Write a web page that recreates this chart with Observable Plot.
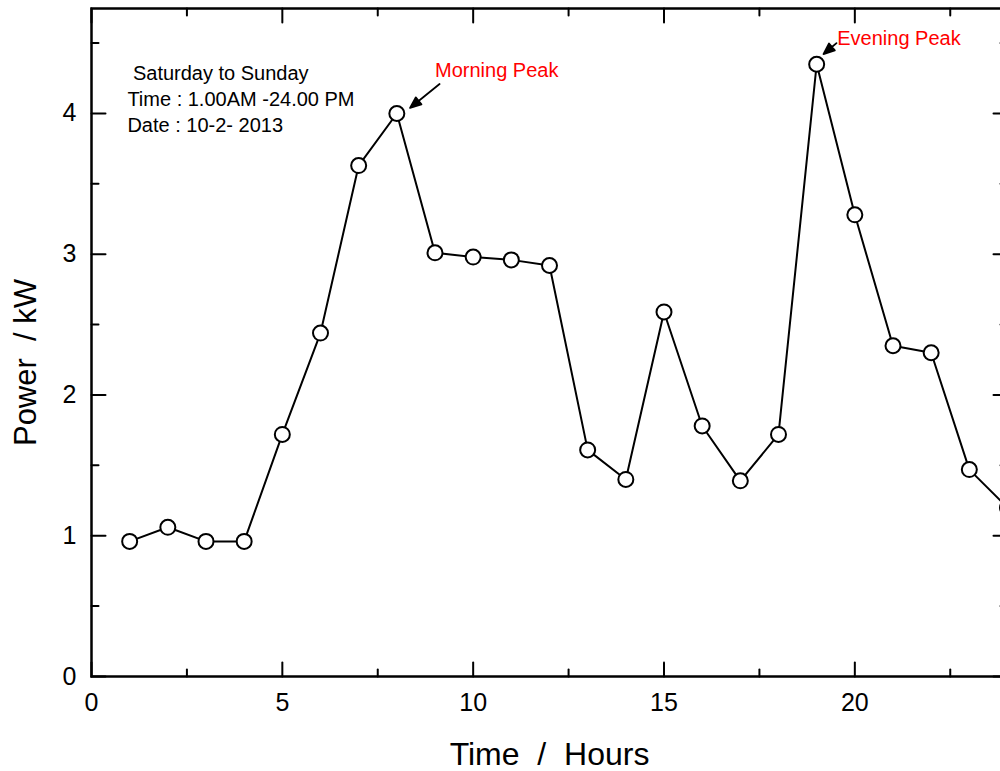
<!DOCTYPE html>
<html>
<head>
<meta charset="utf-8">
<script src="https://cdn.jsdelivr.net/npm/d3@7"></script>
<script src="https://cdn.jsdelivr.net/npm/@observablehq/plot@0.6"></script>
<style>
html, body { margin: 0; padding: 0; background: #fff; overflow: hidden; }
#chart { width: 1000px; height: 771px; overflow: hidden; }
#chart svg { max-width: none !important; }
svg text { white-space: pre; }
</style>
</head>
<body>
<div id="chart"></div>
<script>
// ---- data ----
const hours = [1, 2, 3, 4, 5, 6, 7, 8, 9, 10, 11, 12, 13, 14, 15, 16, 17, 18, 19, 20, 21, 22, 23, 24];
const power = [0.96, 1.06, 0.96, 0.96, 1.72, 2.44, 3.63, 4.00, 3.01, 2.98, 2.96, 2.92,
               1.61, 1.40, 2.59, 1.78, 1.39, 1.72, 4.35, 3.28, 2.35, 2.30, 1.47, 1.20];
const xMajorTicks = [0, 5, 10, 15, 20];
const xMinorTicks = [2.5, 7.5, 12.5, 17.5, 22.5];
const yMajorTicks = [0, 1, 2, 3, 4];
const yMinorTicks = [0.5, 1.5, 2.5, 3.5, 4.5];
const xLabel = "Time  /  Hours";
const yLabel = "Power  / kW";
const infoLines = [" Saturday to Sunday", "Time : 1.00AM -24.00 PM", "Date : 10-2- 2013"];
const peakLabels = ["Morning Peak", "Evening Peak"];

// ---- layout / annotations ----
const xDomain = [0, 24];
const yDomain = [0, 4.746];
const infoPos = {x: 0.94, y: 4.37};
const peakLabelPos = [{x: 9.0, y: 4.36}, {x: 19.54, y: 4.59}];
const peakArrows = [
  {x: 9.12, y: 4.21, rotate: 231, length: 38},
  {x: 19.52, y: 4.50, rotate: 230, length: 17}
];

const font = "Liberation Sans, Arial, Helvetica, sans-serif";
const points = hours.map((h, i) => ({hour: h, power: power[i]}));

const tickShape = {draw(ctx, l) { ctx.moveTo(0, 0); ctx.lineTo(0, -l); }};
const arrowShape = {draw(ctx, l) {
  ctx.moveTo(0, 0); ctx.lineTo(0, -l + 9);
  ctx.moveTo(0, -l); ctx.lineTo(-4.5, -l + 11); ctx.lineTo(4.5, -l + 11); ctx.closePath();
}};

function ticks(values, dim, at, rotate, length) {
  return Plot.vector(values, {
    x: dim === "x" ? d => d : () => at,
    y: dim === "y" ? d => d : () => at,
    rotate, length, anchor: "start", shape: tickShape,
    stroke: "black", strokeWidth: 2
  });
}

const chart = Plot.plot({
  width: 1007,
  height: 771,
  marginLeft: 91,
  marginRight: 0,
  marginTop: 8,
  marginBottom: 95,
  style: {fontFamily: font, color: "black", background: "white"},
  x: {domain: xDomain},
  y: {domain: yDomain},
  length: {type: "identity"},
  marks: [
    Plot.frame({stroke: "black", strokeWidth: 2.5}),
    // inward ticks on all four sides
    ticks(xMajorTicks, "x", yDomain[0], 0, 14),
    ticks(xMinorTicks, "x", yDomain[0], 0, 7),
    ticks(xMajorTicks, "x", yDomain[1], 180, 14),
    ticks(xMinorTicks, "x", yDomain[1], 180, 7),
    ticks(yMajorTicks, "y", xDomain[0], 90, 14),
    ticks(yMinorTicks, "y", xDomain[0], 90, 7),
    ticks(yMajorTicks, "y", xDomain[1], 270, 14),
    ticks(yMinorTicks, "y", xDomain[1], 270, 7),
    Plot.axisX(xMajorTicks, {anchor: "bottom", tickSize: 0, tickPadding: 17, fontSize: 25, label: null, tickFormat: d => String(d)}),
    Plot.axisY(yMajorTicks, {anchor: "left", tickSize: 0, tickPadding: 15, fontSize: 25, label: null, tickFormat: d => String(d)}),
    Plot.text([xLabel], {frameAnchor: "bottom", textAnchor: "middle", lineAnchor: "top", dy: 66, fontSize: 32, fill: "black"}),
    Plot.text([yLabel], {frameAnchor: "left", textAnchor: "middle", lineAnchor: "middle", rotate: -90, dx: -65, dy: 20, fontSize: 31, fill: "black"}),
    // data
    Plot.line(points, {x: "hour", y: "power", stroke: "black", strokeWidth: 2}),
    Plot.dot(points, {x: "hour", y: "power", r: 7.5, fill: "white", stroke: "black", strokeWidth: 2}),
    // annotations
    Plot.text([infoLines.join("\n")], {x: infoPos.x, y: infoPos.y, textAnchor: "start", lineAnchor: "top",
      lineHeight: 1.3, fontSize: 20, fill: "black"}),
    Plot.text(peakLabels, {x: (d, i) => peakLabelPos[i].x, y: (d, i) => peakLabelPos[i].y,
      textAnchor: "start", lineAnchor: "top", fontSize: 20, fill: "#ff0000"}),
    Plot.vector(peakArrows, {x: "x", y: "y", rotate: "rotate", length: "length", anchor: "start",
      shape: arrowShape, stroke: "black", fill: "black", strokeWidth: 1.8})
  ]
});
document.getElementById("chart").appendChild(chart);
</script>
</body>
</html>
